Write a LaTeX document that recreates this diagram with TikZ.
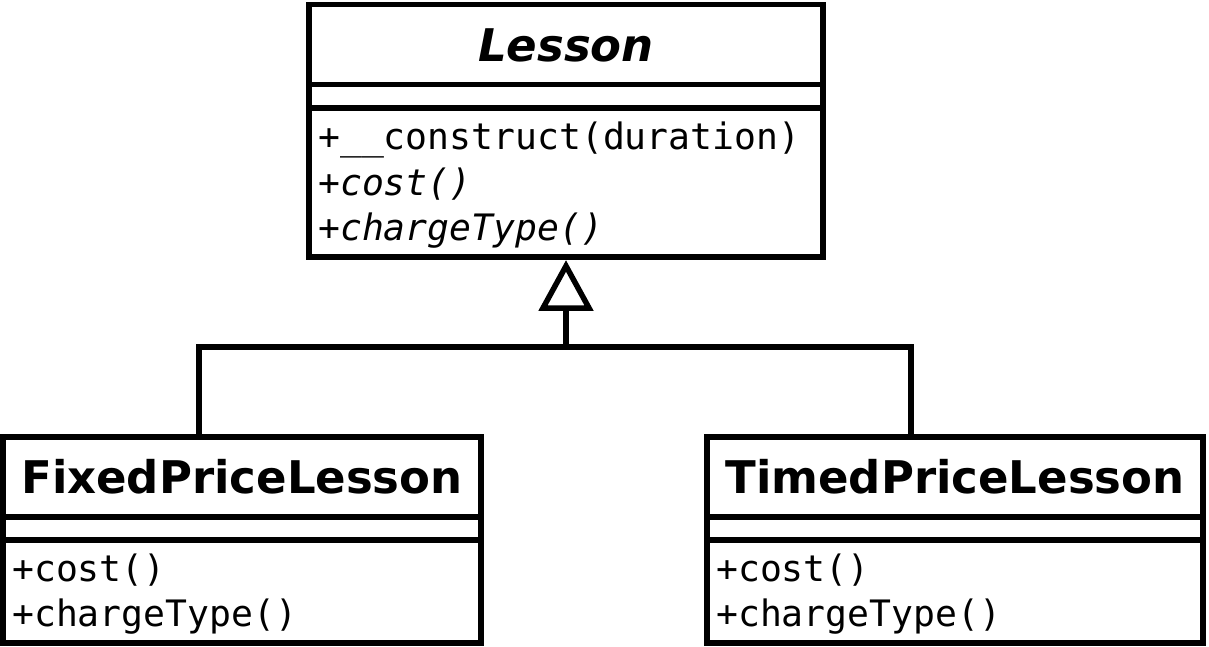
\documentclass[tikz,border=0pt]{standalone}
\usepackage{fontspec}
\setmainfont{DejaVu Sans}
\newfontfamily\umlmono{DejaVu Sans Mono}
\begin{document}
\begin{tikzpicture}[x=1pt,y=-1pt,
  umlbox/.style={draw=black, line width=5.5pt, fill=white, outer sep=0pt, inner sep=0pt},
  sepline/.style={draw=black, line width=5.5pt},
  conn/.style={draw=black, line width=5.5pt},
  umltitle/.style={font=\fontsize{45}{54}\selectfont\bfseries, inner sep=0pt, anchor=base},
  meth/.style={font=\fontsize{36.4}{45}\selectfont\umlmono, inner sep=0pt, anchor=base west}
]
\useasboundingbox (0,0) rectangle (1209,646);
\fill[white] (0,0) rectangle (1209,646);

% boxes
\node[umlbox, minimum width=514pt, minimum height=252.5pt] (lesson) at (566,130.75) {};
\node[umlbox, minimum width=478pt, minimum height=206pt] (fixed) at (242,540) {};
\node[umlbox, minimum width=496pt, minimum height=206pt] (timed) at (955,540) {};

% compartments
\draw[sepline] (lesson.west |- 0,84.5) -- (lesson.east |- 0,84.5);
\draw[sepline] (lesson.west |- 0,108) -- (lesson.east |- 0,108);
\draw[sepline] (fixed.west |- 0,517) -- (fixed.east |- 0,517);
\draw[sepline] (fixed.west |- 0,540) -- (fixed.east |- 0,540);
\draw[sepline] (timed.west |- 0,517) -- (timed.east |- 0,517);
\draw[sepline] (timed.west |- 0,540) -- (timed.east |- 0,540);

% texts
\node[umltitle] (lessonT) at (566,61) {\itshape Lesson};
\node[meth] (l1) at (318,149) {+\_\_construct(duration)};
\node[meth] (l2) at (318,195) {\itshape +cost()};
\node[meth] (l3) at (318,240) {\itshape +chargeType()};

\node[umltitle] (fixedT) at (242,493) {FixedPriceLesson};
\node[meth] (f1) at (12,581) {+cost()};
\node[meth] (f2) at (12,626) {+chargeType()};

\node[umltitle] (timedT) at (955,493) {TimedPriceLesson};
\node[meth] (t1) at (716,581) {+cost()};
\node[meth] (t2) at (716,626) {+chargeType()};

% generalization connector
\coordinate (junc) at (566,347);
\coordinate (tribase) at ([yshift=-51pt]lesson.south);
\coordinate (tritip) at ([yshift=-9pt]lesson.south);
\draw[conn] ([xshift=-43pt]fixed.north) |- (junc) -| ([xshift=-44pt]timed.north);
\draw[conn] (junc) -- (tribase);
\draw[conn, fill=white, line join=miter] (tritip) -- ([xshift=-23pt]tribase) -- ([xshift=23pt]tribase) -- cycle;
\end{tikzpicture}
\end{document}
